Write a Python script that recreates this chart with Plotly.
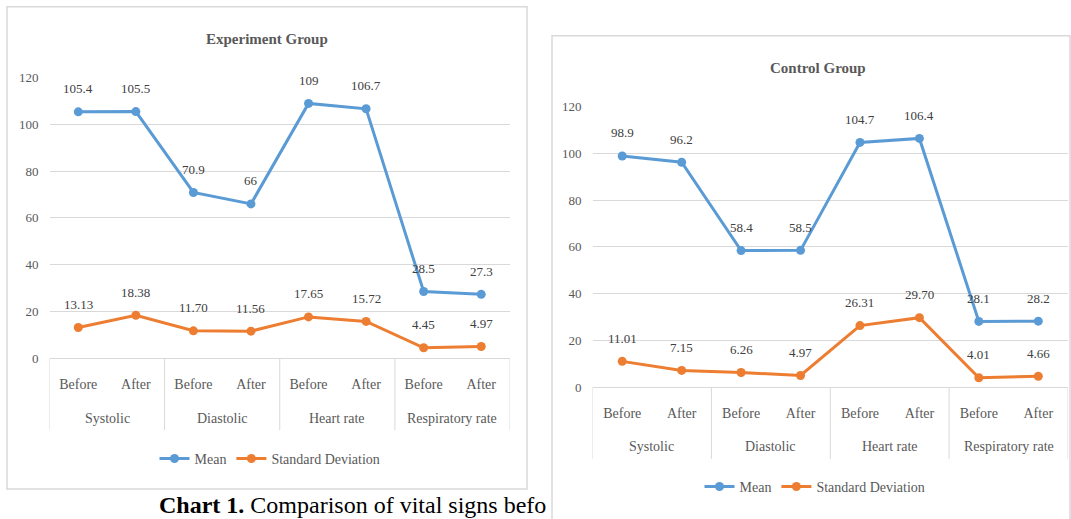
import plotly.graph_objects as go

# Category levels shared by both panels
phases = ["Before", "After"] * 4
group_names = ["Systolic", "Diastolic", "Heart rate", "Respiratory rate"]

# Experiment group
exp_mean = [105.4, 105.5, 70.9, 66, 109, 106.7, 28.5, 27.3]
exp_sd = [13.13, 18.38, 11.70, 11.56, 17.65, 15.72, 4.45, 4.97]

# Control group
ctl_mean = [98.9, 96.2, 58.4, 58.5, 104.7, 106.4, 28.1, 28.2]
ctl_sd = [11.01, 7.15, 6.26, 4.97, 26.31, 29.70, 4.01, 4.66]

y_ticks = [0, 20, 40, 60, 80, 100, 120]

BLUE = "#5B9BD5"
ORANGE = "#ED7D31"
GRID = "#D9D9D9"
TXT = "#595959"
LBL = "#404040"
SERIF = "Liberation Serif, Times New Roman, serif"

W, H = 1071, 519
# vertical placement helper: layout pixel rows -> paper fraction
Y_OFF, Y_SCALE = 6.16, 0.973


def px_x(v):
    return v / W


def px_y(v):
    return (H - (v - Y_OFF) / Y_SCALE) / H


idx = list(range(len(phases)))

fig = go.Figure()

panels = [
    # (mean, sd, xaxis, yaxis, legend, axis row, group-label row, legend row)
    (exp_mean, exp_sd, "x", "y", "legend", 358),
    (ctl_mean, ctl_sd, "x2", "y2", "legend2", 387),
]

annotations = []
shapes = []
for mean, sd, xa, ya, lg, base in panels:
    for name, vals, color, is_sd in [("Mean", mean, BLUE, False),
                                     ("Standard Deviation", sd, ORANGE, True)]:
        fig.add_trace(go.Scatter(
            x=idx, y=vals, name=name, mode="lines+markers",
            line=dict(color=color, width=3),
            marker=dict(color=color, size=9),
            xaxis=xa, yaxis=ya, legend=lg, hoverinfo="skip",
        ))
        # value labels above each point
        for i, v in enumerate(vals):
            annotations.append(dict(
                x=i, y=v, xref=xa, yref=ya,
                text=f"{v:.2f}" if is_sd else f"{v:g}",
                showarrow=False, yshift=23,
                font=dict(family=SERIF, size=13, color=LBL),
            ))
    # second category level: group names centred under each Before/After pair
    for k, g in enumerate(group_names):
        annotations.append(dict(
            x=2 * k + 0.5, y=px_y(base + 60), xref=xa, yref="paper",
            xanchor="center", yanchor="middle", text=g, showarrow=False,
            font=dict(family=SERIF, size=14, color=TXT),
        ))
    # group dividers below the category axis
    for k in range(len(group_names) + 1):
        b = 2 * k - 0.5
        shapes.append(dict(
            type="line", xref=xa, yref="paper", x0=b, x1=b,
            y0=px_y(base), y1=px_y(base + 72),
            line=dict(color=GRID, width=1),
        ))

# Axis geometry (pixel positions converted to paper fractions)
left_x = [px_x(49.5), px_x(510)]
left_y = [px_y(358), px_y(77)]
right_x = [px_x(592.5), px_x(1068)]
right_y = [px_y(387), px_y(106)]

xcat = dict(range=[-0.5, 7.5], tickvals=idx, ticktext=phases,
            showline=True, linecolor=GRID, linewidth=1,
            showgrid=False, zeroline=False, ticks="",
            ticklabelstandoff=13,
            tickfont=dict(family=SERIF, size=14, color=TXT))
ynum = dict(range=[0, 120], tickvals=y_ticks, showgrid=True, gridcolor=GRID,
            gridwidth=1, zeroline=False, showline=False, ticks="",
            ticklabelstandoff=10,
            tickfont=dict(family=SERIF, size=13, color=TXT))

fig.update_layout(
    width=W, height=H,
    margin=dict(l=0, r=0, t=0, b=0),
    paper_bgcolor="white", plot_bgcolor="white",
    xaxis=dict(domain=left_x, anchor="y", **xcat),
    yaxis=dict(domain=left_y, anchor="x", **ynum),
    xaxis2=dict(domain=right_x, anchor="y2", **xcat),
    yaxis2=dict(domain=right_y, anchor="x2", **ynum),
    legend=dict(orientation="h", x=px_x(270), y=px_y(459),
                xanchor="center", yanchor="middle",
                font=dict(family=SERIF, size=14, color=TXT),
                itemwidth=30, bgcolor="rgba(0,0,0,0)"),
    legend2=dict(orientation="h", x=px_x(815), y=px_y(487),
                 xanchor="center", yanchor="middle",
                 font=dict(family=SERIF, size=14, color=TXT),
                 itemwidth=30, bgcolor="rgba(0,0,0,0)"),
    showlegend=True,
)

# Chart frames
shapes.append(dict(type="rect", xref="paper", yref="paper",
                   x0=px_x(7), x1=px_x(527), y0=px_y(489), y1=px_y(6),
                   line=dict(color=GRID, width=1.5), layer="below"))
shapes.append(dict(type="rect", xref="paper", yref="paper",
                   x0=px_x(552), x1=px_x(1070), y0=px_y(530), y1=px_y(35),
                   line=dict(color=GRID, width=1.5), layer="below"))

# Panel titles
annotations.append(dict(x=px_x(267), y=px_y(38), xref="paper", yref="paper",
                        xanchor="center", yanchor="middle",
                        text="<b>Experiment Group</b>", showarrow=False,
                        font=dict(family=SERIF, size=15, color=TXT)))
annotations.append(dict(x=px_x(818), y=px_y(67), xref="paper", yref="paper",
                        xanchor="center", yanchor="middle",
                        text="<b>Control Group</b>", showarrow=False,
                        font=dict(family=SERIF, size=15, color=TXT)))

# Figure caption
annotations.append(dict(x=px_x(157), y=px_y(505), xref="paper", yref="paper",
                        xanchor="left", yanchor="middle",
                        text="<b>Chart 1.</b> Comparison of vital signs befo",
                        showarrow=False,
                        font=dict(family=SERIF, size=24, color="#000000")))

fig.update_layout(annotations=annotations, shapes=shapes)

fig.write_html("out.html")
